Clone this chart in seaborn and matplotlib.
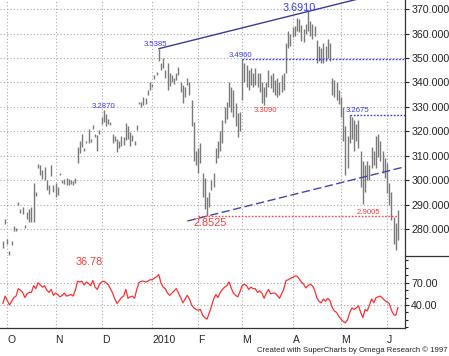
import numpy as np
import pandas as pd
import matplotlib
matplotlib.use('Agg')
import matplotlib.pyplot as plt
import seaborn as sns
from matplotlib.lines import Line2D

# daily bars, copper (cents), 29 Sep 2009 - 8 Jun 2010
dates = pd.bdate_range('2009-09-29', '2010-06-08')

high = [275, 284, 276, 271, 275, 281, 280.5, 291, 288, 289,
        281.5, 287, 288, 289, 299, 295, 306.5, 306, 304, 305.5,
        300, 298, 306, 298, 299, 297, 303, 300, 300.5, 301,
        300.5, 300, 299.5, 301, 313.5, 316, 319, 313, 316, 321,
        317, 322.5, 319, 318.5, 320.5, 326, 328.7, 327, 325, 324,
        319, 318, 317, 316, 318, 317.5, 323.4, 322, 319.7, 318.5,
        316, 322.5, 332, 332, 334, 333.5, 337, 340, 339.5, 343,
        344.4, 353.85, 348, 350, 345, 348, 344, 343, 342, 344,
        346.5, 340, 339, 338, 342, 340, 333, 324, 312, 313,
        315, 303, 301, 293, 295, 300, 303, 313, 316, 320,
        324.5, 330, 332, 340, 338, 337, 331.6, 327.5, 328, 349.6,
        348, 347, 345, 346, 344, 346, 344, 344, 340, 338,
        340, 345, 343, 344, 341, 342, 340, 343, 344, 356,
        361, 360, 362.7, 363, 366.4, 366, 363.6, 362, 364, 369.1,
        365, 364, 363, 357.5, 355, 354, 356, 355, 358, 356,
        342, 341, 340, 337, 334, 330, 322, 318, 326.75, 326,
        324.6, 323, 324.6, 312, 308, 306, 308, 306, 313.6, 312,
        318, 319, 316, 312, 309, 307, 299, 295, 285, 282.4,
        287.7]
low = [272, 282, 274, 269.5, 273.5, 279, 279, 290, 286.5, 286,
       280.5, 284, 283, 283, 283, 293.5, 305, 302, 300.5, 300,
       296, 294.5, 301.5, 295, 293, 294, 302, 299, 298.5, 298,
       298, 298.5, 298, 299, 307, 311, 313.5, 312, 315, 315,
       315.5, 321, 317.5, 312, 319, 323, 324, 322, 323, 322.5,
       315, 316, 311.5, 313, 314, 314.5, 316.5, 317, 314, 316,
       314.5, 320.5, 331, 330, 330.8, 331, 335, 337, 338, 341.5,
       343, 349, 345, 346, 342, 337, 338.5, 340, 339.5, 341,
       343, 336, 331.5, 334, 339, 335, 322, 308, 306, 303,
       307, 293, 288, 285.25, 289, 296, 297, 307, 309, 312,
       315, 323.4, 325, 330, 328, 326, 322, 317.6, 320, 333,
       340, 338, 337, 339, 338, 339, 338, 336, 331.6, 330.9,
       334, 338, 337.6, 336, 335, 334, 335, 336, 337, 344,
       354, 355, 358.7, 359, 361, 360.7, 357, 356.6, 360, 361,
       359, 358, 359, 348, 349, 348, 348, 349, 350, 349,
       335, 334, 333, 331, 326, 316, 302, 305, 315, 317,
       312, 316, 313, 297, 290.05, 295, 300, 300, 305, 306,
       305, 309.5, 308, 303, 301, 294.6, 290, 283.7, 274, 271.4,
       275.4]
rsi = [42, 52, 46, 40, 45, 50, 52, 62, 60, 57,
       50, 55, 57, 57, 66, 62, 70, 67, 64, 66,
       60, 57, 61, 53, 56, 54, 51, 53, 56, 52,
       53, 54, 52, 60, 72, 71, 72, 67, 71, 69,
       66, 73, 64, 61, 68, 71, 72, 70, 67, 62,
       56, 48, 42, 46, 50, 52, 61, 49, 51, 52,
       49, 61, 70, 72, 72, 71, 72, 74, 74, 76,
       78, 81, 70, 64, 62, 56, 53, 56, 59, 62,
       56, 50, 43, 48, 53, 48, 40, 36, 34, 33,
       34, 26, 23, 21, 29, 38, 48, 54, 50, 57,
       61, 64, 66, 71, 63, 56, 53, 51, 58, 66,
       68, 66, 61, 64, 62, 62, 57, 59, 56, 49,
       56, 61, 55, 56, 56, 53, 49, 55, 62, 73,
       74, 76, 77, 79, 79, 75, 71, 68, 63, 66,
       68, 66, 60, 50, 45, 43, 48, 45, 49, 46,
       37, 32, 30, 25, 21, 18, 16, 20, 30, 36,
       34, 36, 39, 30, 23, 34, 32, 40, 48, 43,
       50, 51, 52, 49, 46, 44, 42, 33, 27, 26,
       36.78]

month_labels = ['O', 'N', 'D', '2010', 'F', 'M', 'A', 'M', 'J']
price_ticks = [280, 290, 300, 310, 320, 330, 340, 350, 360, 370]
rsi_ticks = [40, 70]

sns.set_style('white')
plt.rcParams['font.family'] = ['Liberation Sans', 'DejaVu Sans']

W, H = 449, 356
fig = plt.figure(figsize=(W / 100, H / 100), dpi=100)
ax = fig.add_axes([0, 1 - 256 / H, 405 / W, 256 / H])
ax2 = fig.add_axes([0, 1 - 328 / H, 405 / W, 72 / H], sharex=ax)

x = np.arange(len(high))
hi = np.array(high)
lo = np.array(low)

# month starts and weekly ticks
month_idx = [i for i in range(len(dates)) if i > 0 and dates[i].month != dates[i - 1].month]
week_idx = [i for i in range(len(dates)) if dates[i].dayofweek == 0]

grid_kw = dict(color='#a8a8a8', lw=0.8, ls=(0, (1, 2)))
blue_txt = '#3c3cff'
red_txt = '#ff3c3c'

# ---- price panel
ax.vlines(x, lo, hi, color='#7a7a7a', lw=1.0)
ax.set_xlim(-1.32, 183.19)
ax.set_ylim(268.9, 373.8)
for s in ['top', 'left', 'bottom']:
    ax.spines[s].set_visible(False)
ax.spines['right'].set_color('#333333')
ax.spines['right'].set_linewidth(0.9)
ax.yaxis.tick_right()
ax.set_yticks(price_ticks)
ax.set_yticklabels([f'{v:.4f}' for v in price_ticks])
ax.tick_params(axis='y', direction='out', length=3, width=0.8, labelsize=7.7, pad=1.5)
ax.tick_params(axis='x', length=0, labelbottom=False)
ax.set_xticks(month_idx)
ax.grid(True, **grid_kw)

j_nov = int(np.argmax(hi[:60]))
j_jan = 60 + int(np.argmax(hi[60:89]))
j_apr = int(np.argmax(hi))
j_feb = 80 + int(np.argmin(lo[80:110]))
j_mar = 105 + int(np.argmax(hi[105:125]))
j_marlow = 110 + int(np.argmin(lo[110:129]))
j_may = 157 + int(np.argmax(hi[157:163]))
j_maylow = 160 + int(np.argmin(lo[160:175]))
x_end = x[-1] + 3

# channel: line across the two tops and a parallel through the Feb low
slope = (hi[j_apr] - hi[j_jan]) / (j_apr - j_jan)
sns.lineplot(x=[j_jan, x_end], y=[hi[j_jan], hi[j_jan] + slope * (x_end - j_jan)],
             ax=ax, color='#3b3b9c', lw=1.0)
x0 = j_feb - 9
ax.plot([x0, x_end], [lo[j_feb] + slope * (x0 - j_feb), lo[j_feb] + slope * (x_end - j_feb)],
        color='#4646aa', lw=1.0, ls=(0, (6, 2.5)))

# support / resistance levels
ax.plot([j_mar, x_end], [hi[j_mar]] * 2, color='#3535ff', lw=1.0, ls=(0, (1.2, 1.2)))
ax.plot([j_may, x_end], [hi[j_may]] * 2, color='#3535ff', lw=1.0, ls=(0, (1.2, 1.2)))
ax.plot([j_feb - 4, x[-1]], [lo[j_feb]] * 2, color='#ff4545', lw=1.0, ls=(0, (1.2, 1.2)))


def label(s, xi, yv, dx, dy, color, size, va):
    ax.annotate(s, (xi, yv), xytext=(dx * 0.72, dy * 0.72), textcoords='offset points',
                ha='center', va=va, color=color, fontsize=size)


label(f'{hi[j_nov] / 100:.4f}', j_nov, hi[j_nov], 0, 2, blue_txt, 5.6, 'baseline')
label(f'{hi[j_jan] / 100:.4f}', j_jan, hi[j_jan], -3, 3, blue_txt, 5.6, 'baseline')
label(f'{hi[j_apr] / 100:.4f}', j_apr, hi[j_apr], -9, 0.8, blue_txt, 7.8, 'baseline')
label(f'{hi[j_mar] / 100:.4f}', j_mar, hi[j_mar], -2, 2, blue_txt, 5.6, 'baseline')
label(f'{lo[j_marlow] / 100:.4f}', j_marlow, lo[j_marlow], 1.5, -2, red_txt, 5.6, 'top')
label(f'{hi[j_may] / 100:.4f}', j_may, hi[j_may], 8, 2.5, blue_txt, 5.6, 'baseline')
label(f'{lo[j_feb] / 100:.4f}', j_feb, lo[j_feb], 3, -2.2, red_txt, 7.8, 'top')
label(f'{lo[j_maylow] / 100:.4f}', j_maylow, lo[j_feb], 5.5, 1.8, red_txt, 5.6, 'baseline')

# ---- RSI panel
sns.lineplot(x=x, y=rsi, ax=ax2, color='#ff3030', lw=0.9)
ax2.set_ylim(9, 106)
for s in ['top', 'left']:
    ax2.spines[s].set_visible(False)
for s in ['right', 'bottom']:
    ax2.spines[s].set_color('#333333')
    ax2.spines[s].set_linewidth(0.9)
ax2.yaxis.tick_right()
ax2.set_yticks(rsi_ticks)
ax2.set_yticklabels([f'{v:.2f}' for v in rsi_ticks])
ax2.set_yticks(range(10, 101, 10), minor=True)
ax2.tick_params(axis='y', which='major', direction='out', length=3, width=0.8, labelsize=7.7, pad=1.5)
ax2.tick_params(axis='y', which='minor', direction='out', length=2, width=0.8)
ax2.set_xticks(month_idx)
ax2.set_xticklabels(month_labels)
ax2.set_xticks(week_idx, minor=True)
ax2.tick_params(axis='x', which='major', direction='out', length=4, width=0.8, labelsize=7.5, pad=1)
ax2.tick_params(axis='x', which='minor', direction='out', length=2, width=0.8)
for t in ax2.get_xticklabels():
    t.set_horizontalalignment('left')
ax2.grid(True, which='major', **grid_kw)
ax2.set_xlabel('')
ax2.set_ylabel('')
ax2.text(0.22, 0.91, f'{rsi[-1]:.2f}', transform=ax2.transAxes, ha='center', va='center',
         color=red_txt, fontsize=7.8)

fig.add_artist(Line2D([405 / W, 1], [1 - 256 / H] * 2, transform=fig.transFigure,
                      color='#333333', lw=0.9))
fig.text(448 / W, 1 - 350 / H, 'Created with SuperCharts by Omega Research \u00a9 1997',
         ha='right', va='center', fontsize=5.6)

fig.savefig('out.png', dpi=100)
